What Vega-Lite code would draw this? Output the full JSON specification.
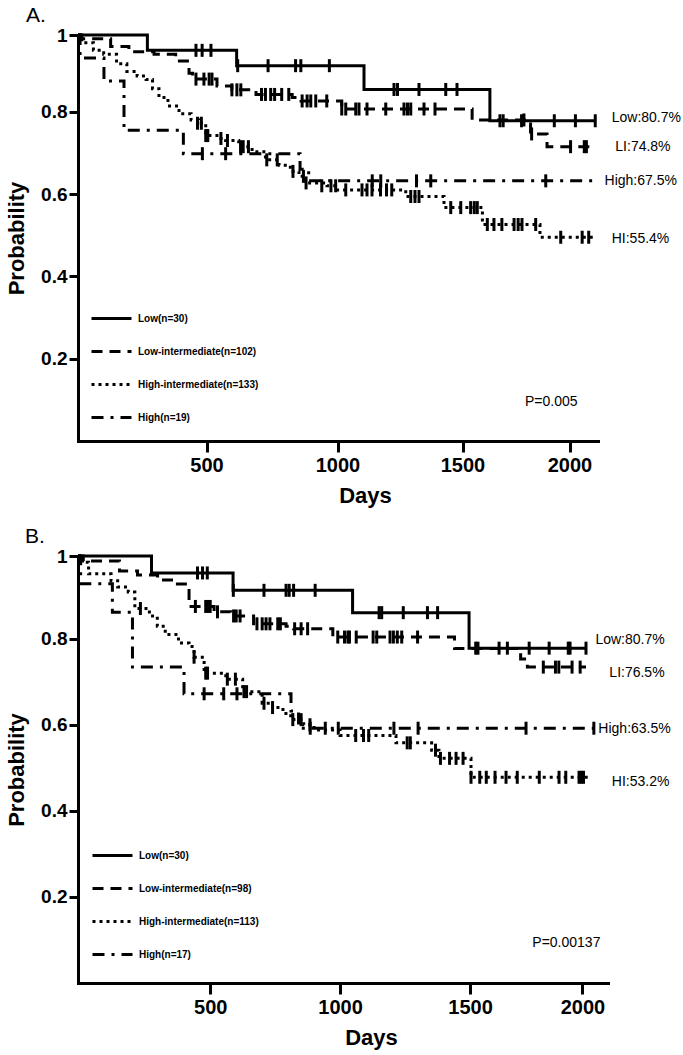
{
  "$schema": "https://vega.github.io/schema/vega-lite/v6.json",
  "padding": {"left": 5, "top": 5, "right": 5, "bottom": 5},
  "spacing": 20,
  "config": {
    "view": {"stroke": null},
    "font": "Liberation Sans",
    "axis": {"grid": false, "domainColor": "black", "tickColor": "black", "labelColor": "black", "titleColor": "black", "domainWidth": 3, "tickWidth": 3, "domainCap": "square", "labelFont": "Liberation Sans", "titleFont": "Liberation Sans"}
  },
  "datasets": {
    "curvesA": [
      {"group": "Low(n=30)", "day": 0, "s": 1}, {"group": "Low(n=30)", "day": 270, "s": 0.96}, {"group": "Low(n=30)", "day": 615, "s": 0.92}, {"group": "Low(n=30)", "day": 1106, "s": 0.858}, {"group": "Low(n=30)", "day": 1628, "s": 0.778}, {"group": "Low(n=30)", "day": 2122, "s": 0.778},
      {"group": "Low-intermediate(n=102)", "day": 0, "s": 1}, {"group": "Low-intermediate(n=102)", "day": 15, "s": 0.99}, {"group": "Low-intermediate(n=102)", "day": 127, "s": 0.97}, {"group": "Low-intermediate(n=102)", "day": 198, "s": 0.956}, {"group": "Low-intermediate(n=102)", "day": 296, "s": 0.95}, {"group": "Low-intermediate(n=102)", "day": 380, "s": 0.932}, {"group": "Low-intermediate(n=102)", "day": 432, "s": 0.9}, {"group": "Low-intermediate(n=102)", "day": 446, "s": 0.885}, {"group": "Low-intermediate(n=102)", "day": 540, "s": 0.867}, {"group": "Low-intermediate(n=102)", "day": 597, "s": 0.857}, {"group": "Low-intermediate(n=102)", "day": 689, "s": 0.845}, {"group": "Low-intermediate(n=102)", "day": 827, "s": 0.837}, {"group": "Low-intermediate(n=102)", "day": 861, "s": 0.828}, {"group": "Low-intermediate(n=102)", "day": 1017, "s": 0.807}, {"group": "Low-intermediate(n=102)", "day": 1545, "s": 0.78}, {"group": "Low-intermediate(n=102)", "day": 1818, "s": 0.746}, {"group": "Low-intermediate(n=102)", "day": 1895, "s": 0.715}, {"group": "Low-intermediate(n=102)", "day": 2122, "s": 0.715},
      {"group": "High-intermediate(n=133)", "day": 0, "s": 1}, {"group": "High-intermediate(n=133)", "day": 15, "s": 0.98}, {"group": "High-intermediate(n=133)", "day": 60, "s": 0.96}, {"group": "High-intermediate(n=133)", "day": 100, "s": 0.95}, {"group": "High-intermediate(n=133)", "day": 150, "s": 0.925}, {"group": "High-intermediate(n=133)", "day": 190, "s": 0.905}, {"group": "High-intermediate(n=133)", "day": 230, "s": 0.893}, {"group": "High-intermediate(n=133)", "day": 265, "s": 0.884}, {"group": "High-intermediate(n=133)", "day": 290, "s": 0.86}, {"group": "High-intermediate(n=133)", "day": 315, "s": 0.837}, {"group": "High-intermediate(n=133)", "day": 350, "s": 0.815}, {"group": "High-intermediate(n=133)", "day": 393, "s": 0.795}, {"group": "High-intermediate(n=133)", "day": 440, "s": 0.78}, {"group": "High-intermediate(n=133)", "day": 471, "s": 0.772}, {"group": "High-intermediate(n=133)", "day": 497, "s": 0.742}, {"group": "High-intermediate(n=133)", "day": 540, "s": 0.735}, {"group": "High-intermediate(n=133)", "day": 573, "s": 0.73}, {"group": "High-intermediate(n=133)", "day": 623, "s": 0.715}, {"group": "High-intermediate(n=133)", "day": 674, "s": 0.703}, {"group": "High-intermediate(n=133)", "day": 725, "s": 0.683}, {"group": "High-intermediate(n=133)", "day": 777, "s": 0.67}, {"group": "High-intermediate(n=133)", "day": 820, "s": 0.655}, {"group": "High-intermediate(n=133)", "day": 853, "s": 0.643}, {"group": "High-intermediate(n=133)", "day": 878, "s": 0.627}, {"group": "High-intermediate(n=133)", "day": 960, "s": 0.62}, {"group": "High-intermediate(n=133)", "day": 1000, "s": 0.61}, {"group": "High-intermediate(n=133)", "day": 1273, "s": 0.594}, {"group": "High-intermediate(n=133)", "day": 1426, "s": 0.567}, {"group": "High-intermediate(n=133)", "day": 1593, "s": 0.526}, {"group": "High-intermediate(n=133)", "day": 1862, "s": 0.495}, {"group": "High-intermediate(n=133)", "day": 2122, "s": 0.495},
      {"group": "High(n=19)", "day": 0, "s": 1}, {"group": "High(n=19)", "day": 8, "s": 0.94}, {"group": "High(n=19)", "day": 101, "s": 0.88}, {"group": "High(n=19)", "day": 179, "s": 0.755}, {"group": "High(n=19)", "day": 410, "s": 0.698}, {"group": "High(n=19)", "day": 857, "s": 0.66}, {"group": "High(n=19)", "day": 890, "s": 0.632}, {"group": "High(n=19)", "day": 2122, "s": 0.632}
    ],
    "censA": [
      {"day": 459, "s": 0.96}, {"day": 483, "s": 0.96}, {"day": 517, "s": 0.96}, {"day": 619, "s": 0.92}, {"day": 735, "s": 0.92}, {"day": 840, "s": 0.92}, {"day": 860, "s": 0.92}, {"day": 969, "s": 0.92},
      {"day": 1226, "s": 0.858}, {"day": 1240, "s": 0.858}, {"day": 1326, "s": 0.858}, {"day": 1433, "s": 0.858}, {"day": 1478, "s": 0.858},
      {"day": 1675, "s": 0.778}, {"day": 1690, "s": 0.778}, {"day": 1776, "s": 0.778}, {"day": 1929, "s": 0.778}, {"day": 2028, "s": 0.778}, {"day": 2122, "s": 0.778},
      {"day": 459, "s": 0.885}, {"day": 490, "s": 0.885}, {"day": 510, "s": 0.885}, {"day": 521, "s": 0.885}, {"day": 597, "s": 0.857}, {"day": 616, "s": 0.857}, {"day": 631, "s": 0.857},
      {"day": 710, "s": 0.845}, {"day": 725, "s": 0.845}, {"day": 745, "s": 0.845}, {"day": 760, "s": 0.845}, {"day": 787, "s": 0.845}, {"day": 814, "s": 0.845},
      {"day": 865, "s": 0.828}, {"day": 884, "s": 0.828}, {"day": 898, "s": 0.828}, {"day": 917, "s": 0.828}, {"day": 959, "s": 0.828},
      {"day": 1017, "s": 0.807}, {"day": 1033, "s": 0.807}, {"day": 1073, "s": 0.807}, {"day": 1086, "s": 0.807}, {"day": 1118, "s": 0.807}, {"day": 1193, "s": 0.807}, {"day": 1266, "s": 0.807}, {"day": 1280, "s": 0.807}, {"day": 1293, "s": 0.807}, {"day": 1346, "s": 0.807}, {"day": 1390, "s": 0.807},
      {"day": 1787, "s": 0.78}, {"day": 1823, "s": 0.746}, {"day": 2005, "s": 0.715}, {"day": 2070, "s": 0.715}, {"day": 2080, "s": 0.715},
      {"day": 465, "s": 0.772}, {"day": 480, "s": 0.772}, {"day": 497, "s": 0.742}, {"day": 505, "s": 0.742}, {"day": 555, "s": 0.735}, {"day": 580, "s": 0.73}, {"day": 630, "s": 0.715}, {"day": 640, "s": 0.715}, {"day": 660, "s": 0.715}, {"day": 730, "s": 0.683}, {"day": 770, "s": 0.683}, {"day": 830, "s": 0.655}, {"day": 870, "s": 0.643}, {"day": 880, "s": 0.627}, {"day": 940, "s": 0.62}, {"day": 975, "s": 0.62},
      {"day": 993, "s": 0.62}, {"day": 1033, "s": 0.61}, {"day": 1098, "s": 0.61}, {"day": 1118, "s": 0.61}, {"day": 1138, "s": 0.61}, {"day": 1172, "s": 0.61}, {"day": 1196, "s": 0.61}, {"day": 1217, "s": 0.61},
      {"day": 1293, "s": 0.594}, {"day": 1310, "s": 0.594}, {"day": 1326, "s": 0.594}, {"day": 1453, "s": 0.567}, {"day": 1493, "s": 0.567}, {"day": 1538, "s": 0.567}, {"day": 1555, "s": 0.567}, {"day": 1569, "s": 0.567},
      {"day": 1616, "s": 0.526}, {"day": 1647, "s": 0.526}, {"day": 1684, "s": 0.526}, {"day": 1741, "s": 0.526}, {"day": 1760, "s": 0.526}, {"day": 1778, "s": 0.526}, {"day": 1842, "s": 0.526},
      {"day": 1959, "s": 0.495}, {"day": 2060, "s": 0.495}, {"day": 2091, "s": 0.495},
      {"day": 484, "s": 0.698}, {"day": 573, "s": 0.698}, {"day": 1139, "s": 0.632}, {"day": 1173, "s": 0.632}, {"day": 1316, "s": 0.632}, {"day": 1373, "s": 0.632}, {"day": 1889, "s": 0.632}
    ],
    "labA": [
      {"label": "Low:80.7%", "day": 2200, "s": 0.785},
      {"label": "LI:74.8%", "day": 2217, "s": 0.715},
      {"label": "High:67.5%", "day": 2166, "s": 0.631},
      {"label": "HI:55.4%", "day": 2200, "s": 0.491},
      {"label": "P=0.005", "day": 1792, "s": 0.094}
    ],
    "curvesB": [
      {"group": "Low(n=30)", "day": 0, "s": 1}, {"group": "Low(n=30)", "day": 278, "s": 0.959}, {"group": "Low(n=30)", "day": 588, "s": 0.917}, {"group": "Low(n=30)", "day": 1048, "s": 0.863}, {"group": "Low(n=30)", "day": 1496, "s": 0.778}, {"group": "Low(n=30)", "day": 2016, "s": 0.778},
      {"group": "Low-intermediate(n=98)", "day": 0, "s": 1}, {"group": "Low-intermediate(n=98)", "day": 20, "s": 0.988}, {"group": "Low-intermediate(n=98)", "day": 157, "s": 0.964}, {"group": "Low-intermediate(n=98)", "day": 225, "s": 0.954}, {"group": "Low-intermediate(n=98)", "day": 301, "s": 0.942}, {"group": "Low-intermediate(n=98)", "day": 376, "s": 0.932}, {"group": "Low-intermediate(n=98)", "day": 420, "s": 0.878}, {"group": "Low-intermediate(n=98)", "day": 515, "s": 0.865}, {"group": "Low-intermediate(n=98)", "day": 578, "s": 0.855}, {"group": "Low-intermediate(n=98)", "day": 667, "s": 0.836}, {"group": "Low-intermediate(n=98)", "day": 792, "s": 0.83}, {"group": "Low-intermediate(n=98)", "day": 821, "s": 0.824}, {"group": "Low-intermediate(n=98)", "day": 972, "s": 0.804}, {"group": "Low-intermediate(n=98)", "day": 1440, "s": 0.777}, {"group": "Low-intermediate(n=98)", "day": 1725, "s": 0.753}, {"group": "Low-intermediate(n=98)", "day": 1755, "s": 0.734}, {"group": "Low-intermediate(n=98)", "day": 2016, "s": 0.734},
      {"group": "High-intermediate(n=113)", "day": 0, "s": 1}, {"group": "High-intermediate(n=113)", "day": 15, "s": 0.985}, {"group": "High-intermediate(n=113)", "day": 40, "s": 0.957}, {"group": "High-intermediate(n=113)", "day": 125, "s": 0.94}, {"group": "High-intermediate(n=113)", "day": 150, "s": 0.925}, {"group": "High-intermediate(n=113)", "day": 190, "s": 0.913}, {"group": "High-intermediate(n=113)", "day": 215, "s": 0.873}, {"group": "High-intermediate(n=113)", "day": 270, "s": 0.855}, {"group": "High-intermediate(n=113)", "day": 300, "s": 0.83}, {"group": "High-intermediate(n=113)", "day": 330, "s": 0.81}, {"group": "High-intermediate(n=113)", "day": 380, "s": 0.79}, {"group": "High-intermediate(n=113)", "day": 420, "s": 0.782}, {"group": "High-intermediate(n=113)", "day": 439, "s": 0.757}, {"group": "High-intermediate(n=113)", "day": 477, "s": 0.72}, {"group": "High-intermediate(n=113)", "day": 560, "s": 0.706}, {"group": "High-intermediate(n=113)", "day": 625, "s": 0.677}, {"group": "High-intermediate(n=113)", "day": 700, "s": 0.65}, {"group": "High-intermediate(n=113)", "day": 740, "s": 0.64}, {"group": "High-intermediate(n=113)", "day": 780, "s": 0.626}, {"group": "High-intermediate(n=113)", "day": 810, "s": 0.612}, {"group": "High-intermediate(n=113)", "day": 860, "s": 0.6}, {"group": "High-intermediate(n=113)", "day": 900, "s": 0.588}, {"group": "High-intermediate(n=113)", "day": 1000, "s": 0.575}, {"group": "High-intermediate(n=113)", "day": 1215, "s": 0.558}, {"group": "High-intermediate(n=113)", "day": 1352, "s": 0.541}, {"group": "High-intermediate(n=113)", "day": 1380, "s": 0.522}, {"group": "High-intermediate(n=113)", "day": 1504, "s": 0.478}, {"group": "High-intermediate(n=113)", "day": 2031, "s": 0.478},
      {"group": "High(n=17)", "day": 0, "s": 1}, {"group": "High(n=17)", "day": 10, "s": 0.933}, {"group": "High(n=17)", "day": 130, "s": 0.864}, {"group": "High(n=17)", "day": 206, "s": 0.734}, {"group": "High(n=17)", "day": 401, "s": 0.672}, {"group": "High(n=17)", "day": 811, "s": 0.632}, {"group": "High(n=17)", "day": 840, "s": 0.592}, {"group": "High(n=17)", "day": 2051, "s": 0.592}
    ],
    "censB": [
      {"day": 452, "s": 0.959}, {"day": 471, "s": 0.959}, {"day": 489, "s": 0.959}, {"day": 589, "s": 0.917}, {"day": 707, "s": 0.917}, {"day": 792, "s": 0.917}, {"day": 804, "s": 0.917}, {"day": 821, "s": 0.917}, {"day": 904, "s": 0.917},
      {"day": 1150, "s": 0.863}, {"day": 1160, "s": 0.863}, {"day": 1243, "s": 0.863}, {"day": 1336, "s": 0.863}, {"day": 1375, "s": 0.863},
      {"day": 1525, "s": 0.778}, {"day": 1535, "s": 0.778}, {"day": 1629, "s": 0.778}, {"day": 1666, "s": 0.778}, {"day": 1763, "s": 0.778}, {"day": 1852, "s": 0.778}, {"day": 1937, "s": 0.778}, {"day": 1945, "s": 0.778}, {"day": 2016, "s": 0.778},
      {"day": 444, "s": 0.878}, {"day": 483, "s": 0.878}, {"day": 492, "s": 0.878}, {"day": 500, "s": 0.878}, {"day": 528, "s": 0.865}, {"day": 590, "s": 0.855}, {"day": 600, "s": 0.855}, {"day": 615, "s": 0.855},
      {"day": 680, "s": 0.836}, {"day": 700, "s": 0.836}, {"day": 715, "s": 0.836}, {"day": 730, "s": 0.836}, {"day": 760, "s": 0.836}, {"day": 770, "s": 0.836}, {"day": 825, "s": 0.824}, {"day": 850, "s": 0.824}, {"day": 875, "s": 0.824},
      {"day": 991, "s": 0.804}, {"day": 1017, "s": 0.804}, {"day": 1030, "s": 0.804}, {"day": 1036, "s": 0.804}, {"day": 1062, "s": 0.804}, {"day": 1127, "s": 0.804}, {"day": 1141, "s": 0.804}, {"day": 1192, "s": 0.804}, {"day": 1205, "s": 0.804}, {"day": 1220, "s": 0.804}, {"day": 1237, "s": 0.804}, {"day": 1298, "s": 0.804},
      {"day": 1826, "s": 0.734}, {"day": 1880, "s": 0.734}, {"day": 1895, "s": 0.734}, {"day": 1954, "s": 0.734}, {"day": 1990, "s": 0.734},
      {"day": 236, "s": 0.873}, {"day": 439, "s": 0.757}, {"day": 483, "s": 0.72}, {"day": 490, "s": 0.72}, {"day": 566, "s": 0.706}, {"day": 597, "s": 0.706}, {"day": 630, "s": 0.677}, {"day": 640, "s": 0.677}, {"day": 707, "s": 0.65}, {"day": 740, "s": 0.64}, {"day": 818, "s": 0.612}, {"day": 850, "s": 0.612}, {"day": 884, "s": 0.6},
      {"day": 1060, "s": 0.575}, {"day": 1090, "s": 0.575}, {"day": 1110, "s": 0.575}, {"day": 1258, "s": 0.558}, {"day": 1270, "s": 0.558}, {"day": 1367, "s": 0.541},
      {"day": 1386, "s": 0.522}, {"day": 1421, "s": 0.522}, {"day": 1446, "s": 0.522}, {"day": 1473, "s": 0.522},
      {"day": 1504, "s": 0.478}, {"day": 1543, "s": 0.478}, {"day": 1572, "s": 0.478}, {"day": 1611, "s": 0.478}, {"day": 1660, "s": 0.478}, {"day": 1710, "s": 0.478}, {"day": 1808, "s": 0.478}, {"day": 1896, "s": 0.478}, {"day": 1926, "s": 0.478}, {"day": 1985, "s": 0.478}, {"day": 1995, "s": 0.478}, {"day": 2005, "s": 0.478},
      {"day": 477, "s": 0.672}, {"day": 552, "s": 0.672}, {"day": 603, "s": 0.672}, {"day": 885, "s": 0.592}, {"day": 943, "s": 0.592}, {"day": 993, "s": 0.592}, {"day": 1207, "s": 0.592}, {"day": 1300, "s": 0.592}, {"day": 1749, "s": 0.592}, {"day": 2051, "s": 0.592}
    ],
    "labB": [
      {"label": "Low:80.7%", "day": 2058, "s": 0.797},
      {"label": "LI:76.5%", "day": 2120, "s": 0.72},
      {"label": "High:63.5%", "day": 2071, "s": 0.59},
      {"label": "HI:53.2%", "day": 2131, "s": 0.468},
      {"label": "P=0.00137", "day": 1777, "s": 0.092}
    ]
  },
  "vconcat": [
    {
      "width": 520,
      "height": 406,
      "title": {"text": "A.", "anchor": "start", "frame": "group", "dx": -52, "fontSize": 21, "fontWeight": "normal", "font": "Liberation Sans", "offset": 0, "color": "black"},
      "encoding": {
        "x": {"field": "day", "type": "quantitative", "scale": {"domain": [0, 500, 1000, 1500, 2000, 2135], "range": [0, 128.5, 259.5, 384.5, 491.5, 520], "nice": false, "zero": false},
          "axis": {"values": [500, 1000, 1500, 2000], "format": "d", "tickSize": 11, "labelPadding": 3, "labelFontSize": 20, "labelFontWeight": "bold", "labelFlush": false, "title": "Days", "titleFontSize": 22, "titleFontWeight": "bold", "titlePadding": 10, "titleX": 287}},
        "y": {"field": "s", "type": "quantitative", "scale": {"domain": [0, 0.8, 1], "range": [406, 76.7, 0], "nice": false, "zero": false},
          "axis": {"values": [0.2, 0.4, 0.6, 0.8, 1], "format": ".1~f", "tickSize": 9, "labelPadding": 2, "labelFontSize": 19, "labelFontWeight": "bold", "title": "Probability", "titleFontSize": 22, "titleFontWeight": "bold", "titlePadding": 12}}
      },
      "layer": [
        {"data": {"name": "curvesA"}, "mark": {"type": "line", "interpolate": "step-after", "color": "black", "strokeWidth": 3, "strokeCap": "butt"},
          "encoding": {"strokeDash": {"field": "group", "type": "nominal",
            "scale": {"domain": ["Low(n=30)", "Low-intermediate(n=102)", "High-intermediate(n=133)", "High(n=19)"], "range": [[1, 0], [11, 7], [3, 4], [12, 7, 3, 7]]},
            "legend": {"orient": "none", "legendX": 12, "legendY": 262, "title": null, "symbolType": "stroke", "symbolSize": 1600, "symbolStrokeWidth": 3, "symbolStrokeColor": "black", "labelFont": "Liberation Sans", "labelFontSize": 10, "labelFontWeight": "bold", "labelColor": "black", "labelOffset": 5, "rowPadding": 5, "padding": 0}}}},
        {"data": {"name": "censA"}, "mark": {"type": "tick", "orient": "vertical", "color": "black", "opacity": 1, "size": 13, "thickness": 3}},
        {"data": {"name": "labA"}, "mark": {"type": "text", "align": "left", "baseline": "middle", "fontSize": 14, "font": "Liberation Sans", "color": "black"}, "encoding": {"text": {"field": "label"}}}
      ]
    },
    {
      "width": 530,
      "height": 427,
      "title": {"text": "B.", "anchor": "start", "frame": "group", "dx": -53, "fontSize": 21, "fontWeight": "normal", "font": "Liberation Sans", "offset": 0, "color": "black"},
      "encoding": {
        "x": {"field": "day", "type": "quantitative", "scale": {"domain": [0, 500, 1000, 1500, 2000, 2114], "range": [0, 132.2, 262.1, 392.1, 504.4, 530], "nice": false, "zero": false},
          "axis": {"values": [500, 1000, 1500, 2000], "format": "d", "tickSize": 11, "labelPadding": 3, "labelFontSize": 20, "labelFontWeight": "bold", "labelFlush": false, "title": "Days", "titleFontSize": 22, "titleFontWeight": "bold", "titlePadding": 10, "titleX": 293}},
        "y": {"field": "s", "type": "quantitative", "scale": {"domain": [0, 0.8, 1], "range": [427, 82.7, 0], "nice": false, "zero": false},
          "axis": {"values": [0.2, 0.4, 0.6, 0.8, 1], "format": ".1~f", "tickSize": 9, "labelPadding": 2, "labelFontSize": 19, "labelFontWeight": "bold", "title": "Probability", "titleFontSize": 22, "titleFontWeight": "bold", "titlePadding": 12}}
      },
      "layer": [
        {"data": {"name": "curvesB"}, "mark": {"type": "line", "interpolate": "step-after", "color": "black", "strokeWidth": 3, "strokeCap": "butt"},
          "encoding": {"strokeDash": {"field": "group", "type": "nominal",
            "scale": {"domain": ["Low(n=30)", "Low-intermediate(n=98)", "High-intermediate(n=113)", "High(n=17)"], "range": [[1, 0], [11, 7], [3, 4], [12, 7, 3, 7]]},
            "legend": {"orient": "none", "legendX": 13, "legendY": 278, "title": null, "symbolType": "stroke", "symbolSize": 1600, "symbolStrokeWidth": 3, "symbolStrokeColor": "black", "labelFont": "Liberation Sans", "labelFontSize": 10, "labelFontWeight": "bold", "labelColor": "black", "labelOffset": 5, "rowPadding": 5, "padding": 0}}}},
        {"data": {"name": "censB"}, "mark": {"type": "tick", "orient": "vertical", "color": "black", "opacity": 1, "size": 13, "thickness": 3}},
        {"data": {"name": "labB"}, "mark": {"type": "text", "align": "left", "baseline": "middle", "fontSize": 14, "font": "Liberation Sans", "color": "black"}, "encoding": {"text": {"field": "label"}}}
      ]
    }
  ],
  "resolve": {"scale": {"x": "independent", "y": "independent", "strokeDash": "independent"}, "legend": {"strokeDash": "independent"}}
}
